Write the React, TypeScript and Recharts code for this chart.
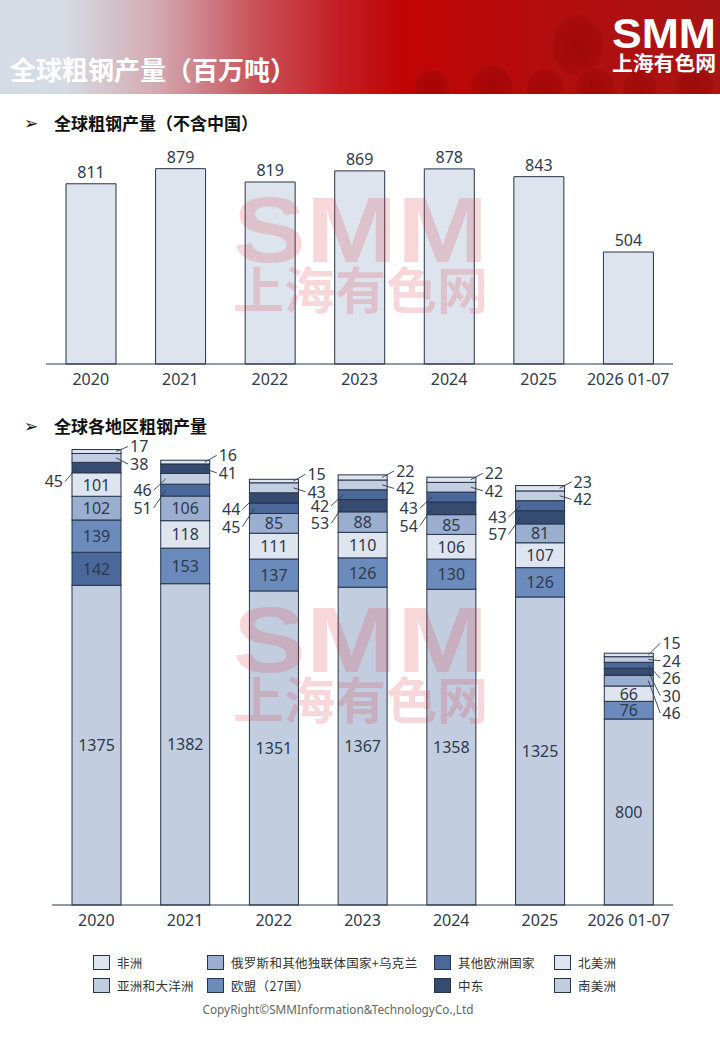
import React from 'react'
import { BarChart, Bar, XAxis, YAxis, LabelList } from 'recharts'

// 全球粗钢产量（不含中国）
const years = ['2020', '2021', '2022', '2023', '2024', '2025', '2026 01-07']
const exChina = [811, 879, 819, 869, 878, 843, 504]

// 全球各地区粗钢产量
const regionNames = ['亚洲和大洋洲', '欧盟（27国）', '北美洲', '俄罗斯和其他独联体国家+乌克兰', '其他欧洲国家', '中东', '南美洲', '非洲']
const asiaOceania = [1375, 1382, 1351, 1367, 1358, 1325, 800]
const eu27 = [139, 153, 137, 126, 130, 126, 76]
const northAmerica = [101, 118, 111, 110, 106, 107, 66]
const cisUkraine = [102, 106, 85, 88, 85, 81, 46]
const otherEurope = [142, 51, 45, 42, 43, 43, 26]
const middleEast = [45, 41, 44, 53, 54, 57, 30]
const southAmerica = [38, 46, 43, 42, 42, 42, 24]
const africa = [17, 16, 15, 22, 22, 23, 15]
const regionValues = [asiaOceania, eu27, northAmerica, cisUkraine, otherEurope, middleEast, southAmerica, africa]
const regionColors = ['#c3cde0', '#6b8bbc', '#dfe5ef', '#9aaecf', '#4b689b', '#354b6f', '#c3cde0', '#dfe5ef']
const legendOrder = ['非洲', '俄罗斯和其他独联体国家+乌克兰', '其他欧洲国家', '北美洲', '亚洲和大洋洲', '欧盟（27国）', '中东', '南美洲']

const TEXT = '#2e3a4d'
const STROKE = '#26334a'
const NUM_FONT = "'Noto Sans', 'Noto Sans CJK SC', sans-serif"
const CJK_FONT = "'Noto Sans CJK SC', 'Noto Sans', sans-serif"
const INSIDE_MIN = 60
const GAP = 17.5
const N = regionNames.length

const topData = years.map((year, i) => ({ year, value: exChina[i] }))

// each year is stacked largest at the bottom
const stackRows = years.map((year, i) => {
  const order = regionNames.map((_, r) => r).sort((a, b) => regionValues[b][i] - regionValues[a][i])
  const row: any = { year }
  order.forEach((r, pos) => {
    row[`v${pos}`] = regionValues[r][i]
    row[`r${pos}`] = r
  })
  return row
})

// one column of label positions per bar, pushed apart then pulled half way back
const spread = (centers: number[]) => {
  const p: number[] = []
  centers.forEach((c, k) => { p[k] = k === 0 ? c : Math.max(c, p[k - 1] + GAP) })
  const shift = (centers.reduce((a, b) => a + b, 0) - p.reduce((a, b) => a + b, 0)) / (p.length || 1)
  return p.map(v => v + shift / 2)
}

const makeSegment = (pos: number) => (props: any) => {
  const { x, y, width, height, payload } = props
  const row = payload
  const value = row[`v${pos}`]
  if (!value || !height) return <g />
  const ppu = height / value
  let above = 0
  for (let j = pos + 1; j < N; j++) above += row[`v${j}`]
  const top = y - above * ppu
  const centers: number[] = []
  let acc = 0
  for (let j = N - 1; j >= 0; j--) {
    const h = row[`v${j}`] * ppu
    centers[j] = top + acc + h / 2
    acc += h
  }
  const small: number[] = []
  for (let j = N - 1; j >= 0; j--) if (row[`v${j}`] < INSIDE_MIN) small.push(j)
  const isLast = row.year === years[years.length - 1]
  const region = row[`r${pos}`]
  const cy = y + height / 2
  const txt = { fontFamily: NUM_FONT, fontSize: 16 }
  let label: React.ReactNode = null
  if (value >= INSIDE_MIN) {
    label = (
      <text x={x + width / 2} y={cy} textAnchor="middle" dominantBaseline="central" fill={TEXT} style={txt}>
        {value}
      </text>
    )
  } else {
    const k = small.indexOf(pos)
    const ly = spread(small.map(j => centers[j]))[k]
    const onRight = isLast || k < 2
    label = onRight ? (
      <g>
        <line x1={x + width - 5} y1={cy} x2={x + width + 7} y2={ly} stroke={TEXT} strokeWidth={0.9} />
        <text x={x + width + 9} y={ly} dominantBaseline="central" fill={TEXT} style={txt}>{value}</text>
      </g>
    ) : (
      <g>
        <line x1={x + 5} y1={cy} x2={x - 7} y2={ly} stroke={TEXT} strokeWidth={0.9} />
        <text x={x - 9} y={ly} textAnchor="end" dominantBaseline="central" fill={TEXT} style={txt}>{value}</text>
      </g>
    )
  }
  return (
    <g>
      <rect x={x} y={y} width={width} height={height} fill={regionColors[region]} stroke={STROKE} strokeWidth={1} />
      {label}
    </g>
  )
}

const Header = () => (
  <svg width={720} height={94} style={{ position: 'absolute', left: 0, top: 0 }}>
    <defs>
      <linearGradient id="hdr" x1="0" x2="1" y1="0" y2="0">
        <stop offset="0" stopColor="#d5dce6" />
        <stop offset="0.09" stopColor="#d6dbe4" />
        <stop offset="0.22" stopColor="#d3a8b0" />
        <stop offset="0.35" stopColor="#c9545c" />
        <stop offset="0.47" stopColor="#c51d24" />
        <stop offset="0.56" stopColor="#c00404" />
        <stop offset="0.78" stopColor="#b40e0e" />
        <stop offset="1" stopColor="#a81414" />
      </linearGradient>
      <radialGradient id="pipe" cx="0.5" cy="0.5" r="0.5">
        <stop offset="0" stopColor="#8a0202" />
        <stop offset="0.8" stopColor="#9c0808" />
        <stop offset="1" stopColor="#b81c1c" stopOpacity={0} />
      </radialGradient>
    </defs>
    <rect width={720} height={94} fill="url(#hdr)" />
    <g opacity={0.45}>
      <ellipse cx={578} cy={46} rx={30} ry={36} fill="url(#pipe)" />
      <circle cx={432} cy={88} r={20} fill="url(#pipe)" />
      <circle cx={492} cy={86} r={24} fill="url(#pipe)" />
      <circle cx={545} cy={88} r={22} fill="url(#pipe)" />
      <circle cx={595} cy={87} r={22} fill="url(#pipe)" />
      <circle cx={640} cy={88} r={20} fill="url(#pipe)" />
      <circle cx={695} cy={86} r={22} fill="url(#pipe)" />
    </g>
    <text x={10} y={80} fill="#fff" fontSize={26} fontWeight={700} fontFamily={CJK_FONT}>全球粗钢产量（百万吨）</text>
    <text x={612} y={48} fill="#fff" fontSize={42} fontWeight={900} fontFamily="'Liberation Sans', sans-serif" textLength={104} lengthAdjust="spacingAndGlyphs">SMM</text>
    <text x={612} y={71} fill="#fff" fontSize={20} fontWeight={700} fontFamily={CJK_FONT} textLength={104} lengthAdjust="spacingAndGlyphs">上海有色网</text>
  </svg>
)

const Watermark = ({ top }: { top: number }) => (
  <g fill="#dc3c46" opacity={0.2}>
    <text x={233} y={top + 67} fontSize={92} fontWeight={900} fontFamily="'Liberation Sans', sans-serif" textLength={255} lengthAdjust="spacingAndGlyphs">SMM</text>
    <text x={233} y={top + 114} fontSize={50} fontWeight={700} fontFamily={CJK_FONT} textLength={255} lengthAdjust="spacingAndGlyphs">上海有色网</text>
  </g>
)

const Heading = ({ top, text }: { top: number; text: string }) => (
  <div style={{ position: 'absolute', left: 24, top, height: 24, lineHeight: '24px', display: 'flex', alignItems: 'center', color: '#111' }}>
    <span style={{ fontFamily: "'DejaVu Sans', sans-serif", fontSize: 17, width: 30 }}>➢</span>
    <span style={{ fontFamily: CJK_FONT, fontSize: 17, fontWeight: 700 }}>{text}</span>
  </div>
)

export default function App() {
  return (
    <div style={{ position: 'absolute', left: 0, top: 0, width: 720, height: 1040, background: '#fff', overflow: 'hidden', fontFamily: CJK_FONT }}>
      <Header />
      <Heading top={111} text="全球粗钢产量（不含中国）" />
      <div style={{ position: 'absolute', left: 0, top: 140 }}>
        <BarChart width={720} height={260} data={topData} margin={{ top: 24, right: 47, bottom: 0, left: 46 }}>
          <XAxis dataKey="year" height={36} interval={0} tickLine={false} tickMargin={4} axisLine={{ stroke: STROKE }} tick={{ fill: TEXT, fontSize: 16, fontFamily: NUM_FONT }} />
          <YAxis hide domain={[0, 900]} />
          <Bar dataKey="value" barSize={50} fill="#dee4ee" stroke={STROKE} strokeWidth={1} isAnimationActive={false}>
            <LabelList dataKey="value" position="top" offset={6} fill={TEXT} style={{ fontFamily: NUM_FONT, fontSize: 16 }} />
          </Bar>
        </BarChart>
      </div>
      <Heading top={414} text="全球各地区粗钢产量" />
      <div style={{ position: 'absolute', left: 0, top: 430 }}>
        <BarChart width={720} height={511} data={stackRows} margin={{ top: 10, right: 47, bottom: 0, left: 52 }}>
          <XAxis dataKey="year" height={36} interval={0} tickLine={false} tickMargin={4} axisLine={{ stroke: STROKE }} tick={{ fill: TEXT, fontSize: 16, fontFamily: NUM_FONT }} />
          <YAxis hide domain={[0, 2000]} />
          {regionNames.map((_, pos) => (
            <Bar key={pos} dataKey={`v${pos}`} stackId="a" barSize={49} shape={makeSegment(pos)} isAnimationActive={false} />
          ))}
        </BarChart>
      </div>
      <svg width={720} height={1040} style={{ position: 'absolute', left: 0, top: 0, pointerEvents: 'none' }}>
        <Watermark top={195} />
        <Watermark top={605} />
      </svg>
      {legendOrder.map((name, k) => {
        const col = k % 4
        const rowIdx = Math.floor(k / 4)
        const left = [93, 207, 434, 554][col]
        const r = regionNames.indexOf(name)
        return (
          <div key={name} style={{ position: 'absolute', left, top: 954 + rowIdx * 23, height: 16, display: 'flex', alignItems: 'center' }}>
            <span style={{ width: 15, height: 13, border: `1px solid ${STROKE}`, background: regionColors[r], display: 'inline-block' }} />
            <span style={{ marginLeft: 7, fontSize: 12.5, color: '#333', letterSpacing: 0.3, whiteSpace: 'nowrap' }}>{name}</span>
          </div>
        )
      })}
      <div style={{ position: 'absolute', left: 0, width: 676, top: 1001, textAlign: 'center', fontFamily: NUM_FONT, fontSize: 11.8, color: '#666' }}>
        CopyRight©SMMInformation&amp;TechnologyCo.,Ltd
      </div>
    </div>
  )
}
